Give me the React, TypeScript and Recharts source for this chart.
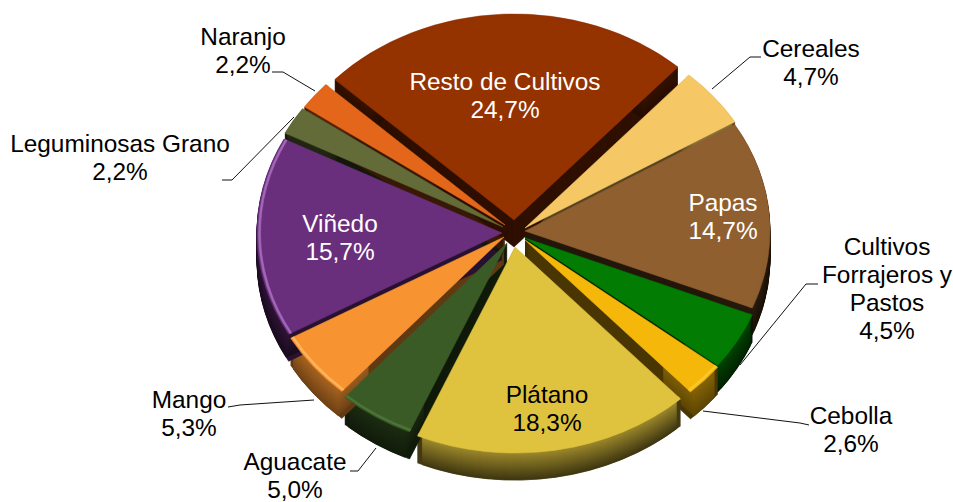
import { Pie, PieChart, Sector } from "recharts";

const categories = [
  "Cereales",
  "Papas",
  "Cultivos Forrajeros y Pastos",
  "Cebolla",
  "Plátano",
  "Aguacate",
  "Mango",
  "Viñedo",
  "Leguminosas Grano",
  "Naranjo",
  "Resto de Cultivos",
];
const values = [4.7, 14.7, 4.5, 2.6, 18.3, 5.0, 5.3, 15.7, 2.2, 2.2, 24.7];

const colors = ["#f6c765", "#8f5f30", "#027c02", "#f5b70a", "#dfc33e", "#3a5b26", "#f79330", "#6a2f7c", "#636b38", "#e4661a", "#943200"];
const rimColors = ["#f6c765", "#8f5f30", "#027c02", "#fbc92e", "#dfc33e", "#4d7538", "#fdb65c", "#a267b8", "#636b38", "#e4661a", "#943200"];
// brillo del lado exterior: arriba y abajo
const sideTop = [0.6, 0.3, 0.55, 0.55, 0.7, 0.5, 0.68, 0.45, 0.4, 0.4, 0.4];
const sideBottom = [0.4, 0.18, 0.28, 0.38, 0.28, 0.3, 0.45, 0.25, 0.25, 0.25, 0.25];
// brillo de las paredes radiales
const wall = [0.35, 0.25, 0.2, 0.3, 0.3, 0.3, 0.4, 0.4, 0.22, 0.25, 0.32];
// desplazamiento de cada porción respecto al centro
const shiftX = [12, 12, 12, 12, 2, -6, -9, -11, -10, -8, 1];
const shiftY = [-5, -2, 5, 7, 14, 10, 4, 0, -6, -8, -13];

// etiquetas: centro x, y de la primera línea, color, líneas de texto
const labelX = [811, 723, 887, 851, 547, 295, 189, 340, 120, 243, 505];
const labelY = [57, 211, 255, 424, 403, 470, 408, 232, 152, 45, 90];
const labelFill = ["#000", "#fff", "#000", "#000", "#000", "#000", "#000", "#fff", "#000", "#000", "#fff"];
const labelLines = [
  ["Cereales"],
  ["Papas"],
  ["Cultivos", "Forrajeros y", "Pastos"],
  ["Cebolla"],
  ["Plátano"],
  ["Aguacate"],
  ["Mango"],
  ["Viñedo"],
  ["Leguminosas Grano"],
  ["Naranjo"],
  ["Resto de Cultivos"],
];
const leaders = [
  "712,89 750,57 761,57",
  "",
  "740,365 806,284 818,284",
  "703,411 800,423 809,425",
  "",
  "376,448 358,471 350,471",
  "314,400 240,405 228,407",
  "",
  "294,117 232,180 222,180",
  "315,91 283,72 272,72",
  "",
];

const data = categories.map((name, i) => ({ name, value: values[i], fill: colors[i] }));

const CX = 513;
const CY = 233;
const RADIUS = 245;
const SQUASH = 0.841;
const DEPTH = 27;
const START = 48;

function shade(hex: string, f: number) {
  const n = parseInt(hex.slice(1), 16);
  const r = Math.round(((n >> 16) & 255) * f);
  const g = Math.round(((n >> 8) & 255) * f);
  const b = Math.round((n & 255) * f);
  return `rgb(${r},${g},${b})`;
}

function indexOf(p: any) {
  return categories.indexOf(p.name ?? p.payload?.name);
}

function place(p: any, down: number) {
  const i = indexOf(p);
  return `translate(${p.cx + shiftX[i]},${p.cy + shiftY[i] + down}) scale(1,${SQUASH}) translate(${-p.cx},${-p.cy})`;
}

function sectorOf(p: any, fill: string, inner = 0, outer = p.outerRadius, inset = 0) {
  return (
    <Sector
      cx={p.cx}
      cy={p.cy}
      innerRadius={inner}
      outerRadius={outer}
      startAngle={p.startAngle - inset}
      endAngle={p.endAngle + inset}
      fill={fill}
      stroke={fill}
      strokeWidth={0.6}
    />
  );
}

// lado del sector: paredes oscuras y, encima, el borde exterior con degradado
function SideShape(p: any) {
  const i = indexOf(p);
  const base = colors[i];
  const walls = [];
  const rim = [];
  for (let d = DEPTH; d >= 1; d--) {
    const f = sideTop[i] + ((sideBottom[i] - sideTop[i]) * d) / DEPTH;
    walls.push(
      <g key={d} transform={place(p, d)}>
        {sectorOf(p, shade(base, wall[i]))}
      </g>,
    );
    rim.push(
      <g key={d} transform={place(p, d)}>
        {sectorOf(p, shade(base, f), p.outerRadius - 45, p.outerRadius, 1.2)}
      </g>,
    );
  }
  return (
    <g>
      {walls}
      {rim}
    </g>
  );
}

function TopShape(p: any) {
  const i = indexOf(p);
  return (
    <g transform={place(p, 0)}>
      {sectorOf(p, colors[i])}
      {sectorOf(p, rimColors[i], p.outerRadius - 3.5, p.outerRadius - 1.5)}
    </g>
  );
}

function renderLabel(p: any) {
  const i = indexOf(p);
  const lines = [...labelLines[i], values[i].toFixed(1).replace(".", ",") + "%"];
  return (
    <g key={categories[i]}>
      {leaders[i] && <polyline points={leaders[i]} fill="none" stroke="#111" strokeWidth={1} />}
      <text
        x={labelX[i]}
        y={labelY[i]}
        textAnchor="middle"
        fill={labelFill[i]}
        fontSize={24.4}
        fontFamily="Liberation Sans, Arial, sans-serif"
      >
        {lines.map((l, j) => (
          <tspan key={j} x={labelX[i]} dy={j === 0 ? 0 : 28}>
            {l}
          </tspan>
        ))}
      </text>
    </g>
  );
}

export default function App() {
  return (
    <div style={{ position: "absolute", left: 0, top: 0, width: 953, height: 502, background: "#fff" }}>
      <PieChart width={953} height={502} margin={{ top: 0, right: 0, bottom: 0, left: 0 }}>
        <Pie
          data={data}
          dataKey="value"
          nameKey="name"
          cx={CX}
          cy={CY}
          outerRadius={RADIUS}
          startAngle={START}
          endAngle={START - 360}
          stroke="none"
          shape={SideShape}
          isAnimationActive={false}
        />
        <Pie
          data={data}
          dataKey="value"
          nameKey="name"
          cx={CX}
          cy={CY}
          outerRadius={RADIUS}
          startAngle={START}
          endAngle={START - 360}
          stroke="none"
          shape={TopShape}
          label={renderLabel}
          labelLine={false}
          isAnimationActive={false}
        />
      </PieChart>
    </div>
  );
}
